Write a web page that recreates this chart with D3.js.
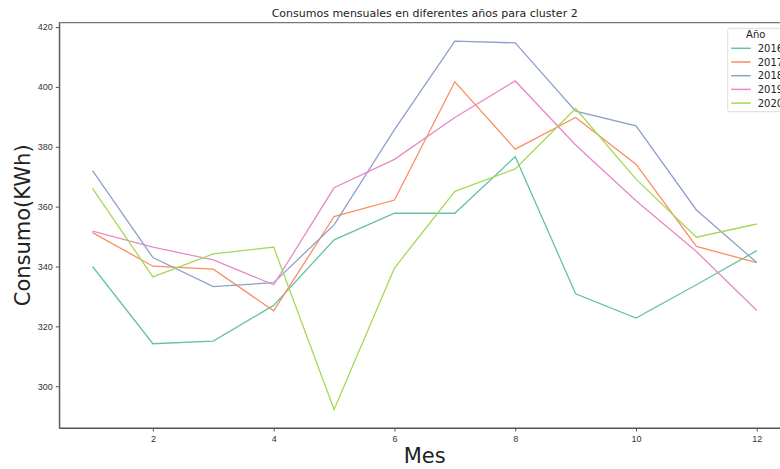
<!DOCTYPE html>
<html>
<head>
<meta charset="utf-8">
<script src="https://cdn.jsdelivr.net/npm/d3@7"></script>
<style>
  body { margin: 0; background: #fff; }
  svg { font-family: "DejaVu Sans", sans-serif; display: block; }
  .axis path, .axis line { stroke: #555; }
  .axis text { fill: #333; font-size: 9px; }
</style>
</head>
<body>
<div id="chart"></div>
<script>
// Data
var months = [1, 2, 3, 4, 5, 6, 7, 8, 9, 10, 11, 12];
var years = ["2016", "2017", "2018", "2019", "2020"];
var v2016 = [340.0, 314.2, 315.1, 327.0, 348.9, 357.8, 357.8, 376.7, 330.9, 322.8, 333.9, 345.3];
var v2017 = [351.3, 340.1, 339.1, 325.2, 356.7, 362.2, 401.7, 379.2, 389.8, 374.2, 346.7, 341.3];
var v2018 = [372.0, 343.0, 333.3, 334.6, 353.9, 385.7, 415.3, 414.7, 391.9, 387.0, 358.9, 341.3];
var v2019 = [351.8, 346.5, 342.2, 333.9, 366.3, 375.8, 389.8, 402.0, 380.6, 362.0, 345.0, 325.3];
var v2020 = [366.1, 336.5, 344.2, 346.5, 292.2, 339.5, 365.1, 372.6, 392.8, 369.2, 349.8, 354.2];
var xTicks = [2, 4, 6, 8, 10, 12];
var yTicks = [300, 320, 340, 360, 380, 400, 420];
var colors = ["#66c2a5", "#fc8d62", "#8da0cb", "#e78ac3", "#a6d854"];

var series = [v2016, v2017, v2018, v2019, v2020].map(function (vals, i) {
    return { year: years[i], color: colors[i], points: vals.map(function (v, j) { return { m: months[j], v: v }; }) };
});

var W = 780, H = 469,
    margin = {top: 22.7, right: -10, bottom: 41, left: 59.3},
    width = W - margin.left - margin.right,
    height = H - margin.top - margin.bottom;

var svg = d3.select("#chart").append("svg")
    .attr("width", W)
    .attr("height", H);

var g = svg.append("g")
    .attr("transform", "translate(" + margin.left + "," + margin.top + ")");

// matplotlib-style 5% margins
var xMin = d3.min(months), xMax = d3.max(months), xPad = (xMax - xMin) * 0.05;
var allV = [].concat(v2016, v2017, v2018, v2019, v2020);
var yMin = d3.min(allV), yMax = d3.max(allV), yPad = (yMax - yMin) * 0.05;

var x = d3.scaleLinear().domain([xMin - xPad, xMax + xPad]).range([0, width]);
var y = d3.scaleLinear().domain([yMin - yPad, yMax + yPad]).range([height, 0]);

g.append("g")
    .attr("class", "axis")
    .attr("transform", "translate(0," + height + ")")
    .call(d3.axisBottom(x).tickValues(xTicks).tickSizeInner(3.5).tickSizeOuter(0).tickPadding(4).tickFormat(d3.format("d")));

g.append("g")
    .attr("class", "axis")
    .call(d3.axisLeft(y).tickValues(yTicks).tickSizeInner(3.5).tickSizeOuter(0).tickPadding(3).tickFormat(d3.format("d")));

// frame
g.append("rect")
    .attr("width", width).attr("height", height)
    .style("fill", "none").style("stroke", "#555").style("stroke-width", 1);

var line = d3.line()
    .x(function (d) { return x(d.m); })
    .y(function (d) { return y(d.v); });

g.selectAll(".series")
    .data(series)
    .enter().append("path")
    .attr("class", "series")
    .attr("d", function (d) { return line(d.points); })
    .style("fill", "none")
    .style("stroke", function (d) { return d.color; })
    .style("stroke-width", 1.3);

// Title and axis labels
svg.append("text")
    .attr("x", margin.left + width / 2).attr("y", 17)
    .attr("text-anchor", "middle")
    .style("font-size", "11px").style("fill", "#222")
    .text("Consumos mensuales en diferentes años para cluster 2");

svg.append("text")
    .attr("x", margin.left + width / 2).attr("y", 463)
    .attr("text-anchor", "middle")
    .style("font-size", "21px").style("fill", "#222")
    .text("Mes");

svg.append("text")
    .attr("transform", "translate(30," + (margin.top + height / 2) + ") rotate(-90)")
    .attr("text-anchor", "middle")
    .style("font-size", "21px").style("fill", "#222")
    .text("Consumo(KWh)");

// Legend (partly outside the window, as in the reference)
var legend = svg.append("g").attr("transform", "translate(727.7,28.3)");
legend.append("rect")
    .attr("width", 80).attr("height", 83.4).attr("rx", 2)
    .style("fill", "#fff").style("fill-opacity", 0.8)
    .style("stroke", "#ddd");
legend.append("text")
    .attr("x", 28).attr("y", 10)
    .attr("text-anchor", "middle")
    .style("font-size", "10px").style("fill", "#222")
    .text("Año");
var items = legend.selectAll(".item")
    .data(series)
    .enter().append("g")
    .attr("transform", function (d, i) { return "translate(0," + (20 + i * 13.7) + ")"; });
items.append("line")
    .attr("x1", 3.5).attr("x2", 23)
    .style("stroke", function (d) { return d.color; })
    .style("stroke-width", 1.5);
items.append("text")
    .attr("x", 30).attr("dy", "0.35em")
    .style("font-size", "10px").style("fill", "#222")
    .text(function (d) { return d.year; });
</script>
</body>
</html>
